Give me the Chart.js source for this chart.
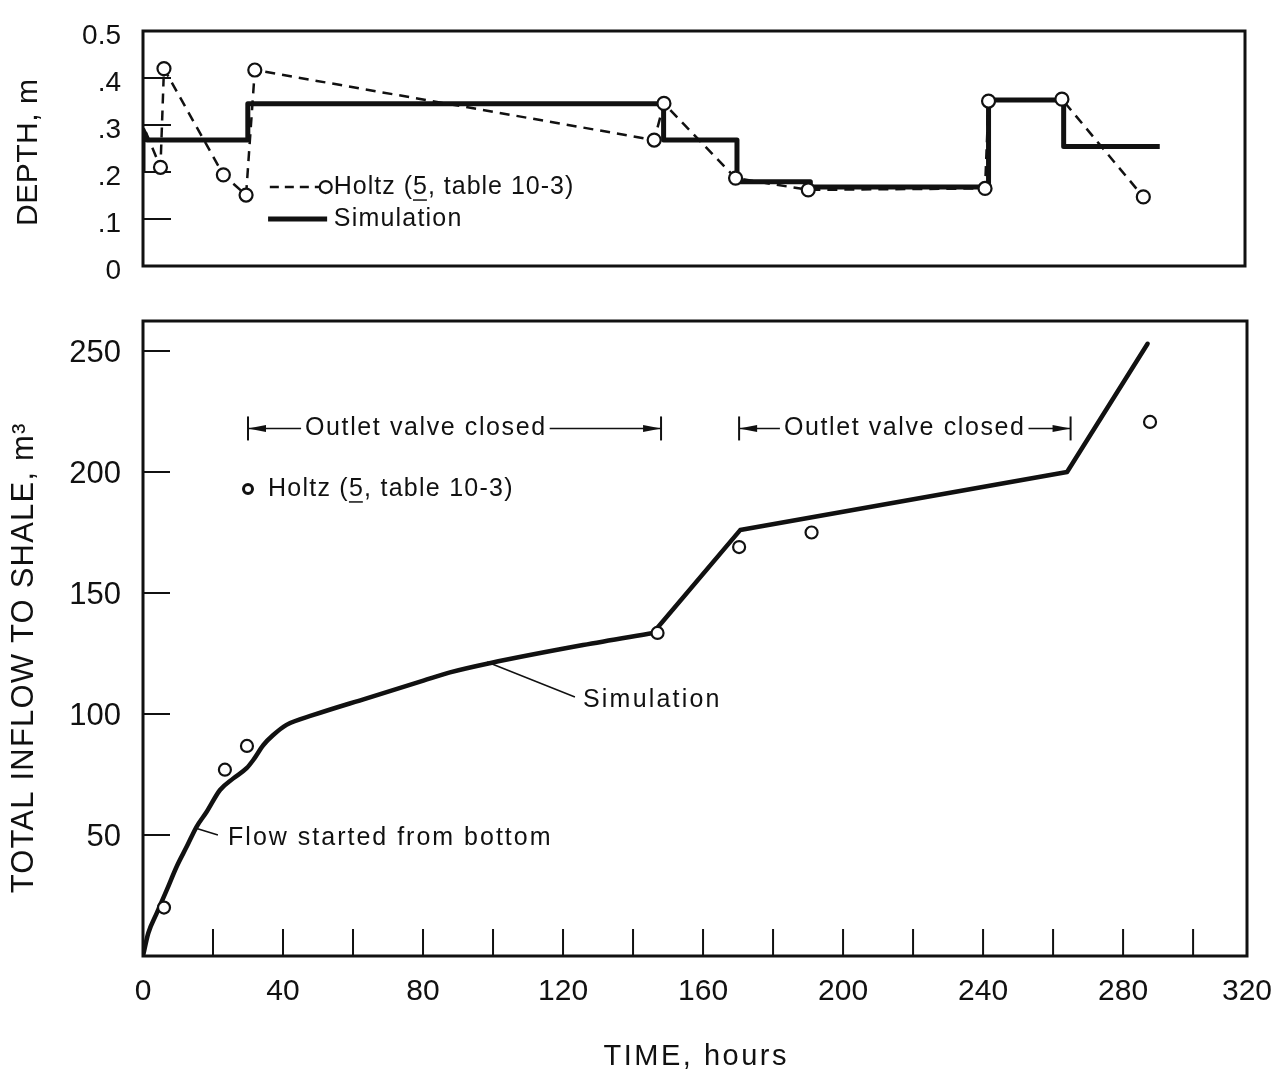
<!DOCTYPE html>
<html>
<head>
<meta charset="utf-8">
<title>Depth and total inflow to shale</title>
<script src="https://cdn.jsdelivr.net/npm/chart.js@4.4.1/dist/chart.umd.min.js"></script>
<style>
  html, body { margin: 0; padding: 0; background: #fff; overflow: hidden; }
  canvas { position: absolute; left: 0; display: block; }
  #depthChart { top: 0; }
  #inflowChart { top: 290px; }
</style>
</head>
<body>
<canvas id="depthChart" width="1272" height="290"></canvas>
<canvas id="inflowChart" width="1272" height="783"></canvas>
<script>
const FONT = "'Liberation Sans', Arial, Helvetica, sans-serif";
const INK = "#111";
const HOLTZ_LABEL = "Holtz (5, table 10-3)";

// time axis (hours). the printed frame stops a little short of 320,
// so the last tick sits on the frame and is labelled 320
const timeTicks = [0, 20, 40, 60, 80, 100, 120, 140, 160, 180, 200, 220, 240, 260, 280, 300, 315.4];
const timeTickLabels = ["0", "", "40", "", "80", "", "120", "", "160", "", "200", "", "240", "", "280", "", "320"];

const depthTicks = [0, 0.1, 0.2, 0.3, 0.4, 0.5];
const depthTickLabels = ["0", ".1", ".2", ".3", ".4", "0.5"];

const inflowTicks = [0, 50, 100, 150, 200, 250];
const inflowTickLabels = ["", "50", "100", "150", "200", "250"];

// top panel - depth, m
const simDepthHours = [0, 0, 1.2, 30, 30, 149, 149, 170, 170, 191, 191, 242, 242, 263.5, 263.5, 291];
const simDepth = [0.2, 0.29, 0.268, 0.268, 0.345, 0.345, 0.268, 0.268, 0.179, 0.179, 0.168, 0.168, 0.353, 0.353, 0.254, 0.254];
const holtzDepthHours = [0.8, 5, 6, 23, 29.5, 32, 146.3, 149.1, 169.6, 190.4, 241, 242, 263, 286.3];
const holtzDepth = [0.285, 0.21, 0.42, 0.194, 0.151, 0.417, 0.268, 0.346, 0.187, 0.162, 0.165, 0.351, 0.355, 0.147];

// bottom panel - total inflow to shale, m3
const simInflowHours = [0, 1.5, 3.9, 6.8, 9.6, 12.5, 15.3, 18.2, 22, 25.8, 29.6, 31.5, 34.4, 37.2, 41, 48.7, 63.9, 80.1, 87.7, 99, 125.7, 145.7, 170.6, 264, 287];
const simInflow = [0, 9.4, 17.6, 27.3, 36.9, 45.2, 53.4, 59.6, 68.6, 73.4, 77.6, 81, 87.2, 91.3, 95.5, 99.6, 106.5, 113.8, 117.2, 121, 128.5, 133.5, 176, 200, 253];
const holtzInflowHours = [6, 23.4, 29.7, 147, 170.3, 191, 287.7];
const holtzInflow = [20, 77, 86.8, 133.5, 169, 175, 220.7];

// periods with the outlet valve closed (hours)
const valveClosed = [[30, 148], [170.3, 265]];

const pts = (xs, ys) => xs.map((x, i) => ({ x: x, y: ys[i] }));
// the simulated curve is smooth until the valve opens at ~146 h, then piecewise straight
const kneeIdx = simInflowHours.indexOf(145.7);

Chart.defaults.font.family = FONT;
Chart.defaults.color = INK;

function drawText(ctx, s, x, y, size, spacing, align) {
    ctx.font = size + "px " + FONT;
    ctx.letterSpacing = spacing + "px";
    ctx.textAlign = align || "left";
    ctx.textBaseline = "middle";
    ctx.fillStyle = INK;
    ctx.fillText(s, x, y);
    return ctx.measureText(s).width;
}

function drawHoltzText(ctx, x, y, size, spacing) {
    drawText(ctx, HOLTZ_LABEL, x, y, size, spacing);
    const a = ctx.measureText("Holtz (").width;
    const b = ctx.measureText("5").width - spacing;
    ctx.lineWidth = 1.5;
    ctx.beginPath();
    ctx.moveTo(x + a, y + size * 0.52);
    ctx.lineTo(x + a + b, y + size * 0.52);
    ctx.stroke();
}

function openCircle(ctx, x, y, r, w) {
    ctx.beginPath();
    ctx.arc(x, y, r, 0, Math.PI * 2);
    ctx.fillStyle = "#fff";
    ctx.fill();
    ctx.lineWidth = w;
    ctx.strokeStyle = INK;
    ctx.stroke();
}

// head points at xTo, with the end bar
function arrowLine(ctx, xFrom, xTo, y) {
    const d = Math.sign(xTo - xFrom);
    ctx.fillStyle = INK;
    ctx.lineWidth = 1.6;
    ctx.beginPath();
    ctx.moveTo(xFrom, y);
    ctx.lineTo(xTo, y);
    ctx.stroke();
    ctx.beginPath();
    ctx.moveTo(xTo, y);
    ctx.lineTo(xTo - d * 18, y - 3.5);
    ctx.lineTo(xTo - d * 18, y + 3.5);
    ctx.closePath();
    ctx.fill();
    ctx.lineWidth = 2;
    ctx.beginPath();
    ctx.moveTo(xTo, y - 12);
    ctx.lineTo(xTo, y + 12);
    ctx.stroke();
}

// frame, inward tick marks and the (letter-spaced) axis titles
const paperAxes = {
    id: "paperAxes",
    beforeDatasetsDraw(chart, args, opts) {
        const { ctx, chartArea: a, scales } = chart;
        ctx.save();
        ctx.strokeStyle = INK;
        ctx.lineWidth = 2;
        ctx.beginPath();
        (opts.yTicks || []).forEach((v) => {
            const py = scales.y.getPixelForValue(v);
            ctx.moveTo(a.left, py);
            ctx.lineTo(a.left + opts.tickLen, py);
        });
        (opts.xTicks || []).forEach((v) => {
            const px = scales.x.getPixelForValue(v);
            ctx.moveTo(px, a.bottom);
            ctx.lineTo(px, a.bottom - opts.tickLen);
        });
        ctx.stroke();
        ctx.restore();
    },
    afterDraw(chart, args, opts) {
        const { ctx, chartArea: a } = chart;
        ctx.save();
        ctx.strokeStyle = INK;
        ctx.lineWidth = 3;
        ctx.strokeRect(a.left, a.top, a.right - a.left, a.bottom - a.top);
        const yt = opts.yTitle;
        if (yt) {
            ctx.save();
            ctx.translate(yt.x, (a.top + a.bottom) / 2 + yt.dy);
            ctx.rotate(-Math.PI / 2);
            drawText(ctx, yt.text, yt.spacing / 2, 0, yt.size, yt.spacing, "center");
            ctx.restore();
        }
        const xt = opts.xTitle;
        if (xt) {
            drawText(ctx, xt.text, (a.left + a.right) / 2 + xt.spacing / 2, xt.y, xt.size, xt.spacing, "center");
        }
        ctx.restore();
    },
};

const depthNotes = {
    id: "depthNotes",
    afterDraw(chart) {
        const { ctx, scales: { x, y } } = chart;
        ctx.save();
        ctx.strokeStyle = INK;
        ctx.fillStyle = INK;
        const y1 = y.getPixelForValue(0.168);
        const y2 = y.getPixelForValue(0.1);
        ctx.lineWidth = 2.5;
        ctx.setLineDash([9, 6]);
        ctx.beginPath();
        ctx.moveTo(x.getPixelForValue(36.3), y1);
        ctx.lineTo(x.getPixelForValue(50.5), y1);
        ctx.stroke();
        ctx.setLineDash([]);
        openCircle(ctx, x.getPixelForValue(52.3), y1, 6, 2.2);
        drawHoltzText(ctx, x.getPixelForValue(54.6), y1, 25, 1);
        ctx.lineWidth = 5;
        ctx.beginPath();
        ctx.moveTo(x.getPixelForValue(35.8), y2);
        ctx.lineTo(x.getPixelForValue(52.7), y2);
        ctx.stroke();
        drawText(ctx, "Simulation", x.getPixelForValue(54.6), y2, 25, 1.2);
        ctx.restore();
    },
};

const inflowNotes = {
    id: "inflowNotes",
    afterDraw(chart) {
        const { ctx, scales: { x, y } } = chart;
        ctx.save();
        ctx.strokeStyle = INK;
        ctx.fillStyle = INK;

        // outlet valve closed brackets
        const textStarts = [46.3, 183.1];
        valveClosed.forEach((p, i) => {
            const yy = y.getPixelForValue(218);
            const x0 = x.getPixelForValue(p[0]);
            const x1 = x.getPixelForValue(p[1]);
            const t0 = x.getPixelForValue(textStarts[i]);
            const w = drawText(ctx, "Outlet valve closed", t0, yy, 25, 1.6);
            arrowLine(ctx, t0 - 4, x0, yy);
            arrowLine(ctx, t0 + w + 3, x1, yy);
        });

        // key for the measured points
        openCircle(ctx, x.getPixelForValue(30), y.getPixelForValue(193), 4.5, 3);
        drawHoltzText(ctx, x.getPixelForValue(35.7), y.getPixelForValue(193), 25, 1.25);

        // leader labels
        ctx.strokeStyle = INK;
        ctx.lineWidth = 1.5;
        ctx.beginPath();
        ctx.moveTo(x.getPixelForValue(14.9), y.getPixelForValue(52.9));
        ctx.lineTo(x.getPixelForValue(21.4), y.getPixelForValue(50));
        ctx.moveTo(x.getPixelForValue(98.3), y.getPixelForValue(121.5));
        ctx.lineTo(x.getPixelForValue(123.4), y.getPixelForValue(107));
        ctx.stroke();
        drawText(ctx, "Flow started from bottom", x.getPixelForValue(24.3), y.getPixelForValue(48.8), 25, 2.0);
        drawText(ctx, "Simulation", x.getPixelForValue(125.7), y.getPixelForValue(105.8), 25, 2.2);
        ctx.restore();
    },
};

function timeAxis(show) {
    const axis = {
        type: "linear",
        display: show,
        min: 0,
        max: 315.4,
        afterBuildTicks: (s) => { s.ticks = timeTicks.map((v) => ({ value: v })); },
        grid: { display: false, drawTicks: false },
        border: { display: false },
        ticks: {
            autoSkip: false,
            maxRotation: 0,
            padding: 18,
            font: { size: 30 },
            callback: (v, i) => timeTickLabels[i],
        },
    };
    if (show) {
        axis.afterFit = (s) => {
            s.height = 117;
            s.paddingLeft = 0;
            s.paddingRight = 0;
        };
    }
    return axis;
}

function valueAxis(max, ticks, labels, fontSize, nudge) {
    return {
        min: 0,
        max: max,
        afterBuildTicks: (s) => { s.ticks = ticks.map((v) => ({ value: v })); },
        afterFit: (s) => {
            s.width = 143;
            s.paddingTop = 0;
            s.paddingBottom = 0;
        },
        grid: { display: false, drawTicks: false },
        border: { display: false },
        ticks: {
            autoSkip: false,
            padding: 22,
            labelOffset: nudge,
            font: { size: fontSize },
            callback: (v, i) => labels[i],
        },
    };
}

new Chart(document.getElementById("depthChart"), {
    type: "scatter",
    data: {
        datasets: [
            {
                label: HOLTZ_LABEL,
                data: pts(holtzDepthHours, holtzDepth),
                showLine: true,
                borderColor: INK,
                borderWidth: 2.5,
                borderDash: [10, 7],
                pointRadius: (c) => (c.dataIndex === 0 ? 0 : 6.5),
                pointBackgroundColor: "#fff",
                pointBorderColor: INK,
                pointBorderWidth: 2.2,
            },
            {
                label: "Simulation",
                data: pts(simDepthHours, simDepth),
                showLine: true,
                borderColor: INK,
                borderWidth: 5,
                borderJoinStyle: "round",
                pointRadius: 0,
            },
        ],
    },
    options: {
        responsive: false,
        animation: false,
        events: [],
        layout: { padding: { left: 0, top: 31, right: 27, bottom: 24 } },
        scales: {
            x: timeAxis(false),
            y: valueAxis(0.5, depthTicks, depthTickLabels, 28, 5),
        },
        plugins: {
            legend: { display: false },
            tooltip: { enabled: false },
            paperAxes: {
                yTicks: [0.1, 0.2, 0.3, 0.4],
                tickLen: 28,
                yTitle: { text: "DEPTH, m", x: 29, dy: 4, size: 30, spacing: 0.5 },
            },
        },
    },
    plugins: [paperAxes, depthNotes],
});

new Chart(document.getElementById("inflowChart"), {
    type: "scatter",
    data: {
        datasets: [
            {
                label: HOLTZ_LABEL,
                data: pts(holtzInflowHours, holtzInflow),
                pointRadius: 6,
                pointBackgroundColor: "#fff",
                pointBorderColor: INK,
                pointBorderWidth: 2.2,
            },
            {
                label: "Simulation",
                data: pts(simInflowHours.slice(0, kneeIdx + 1), simInflow.slice(0, kneeIdx + 1)),
                showLine: true,
                cubicInterpolationMode: "monotone",
                borderColor: INK,
                borderWidth: 4.5,
                borderCapStyle: "round",
                pointRadius: 0,
            },
            {
                label: "Simulation",
                data: pts(simInflowHours.slice(kneeIdx), simInflow.slice(kneeIdx)),
                showLine: true,
                borderColor: INK,
                borderWidth: 4.5,
                borderCapStyle: "round",
                borderJoinStyle: "round",
                pointRadius: 0,
            },
        ],
    },
    options: {
        responsive: false,
        animation: false,
        events: [],
        layout: { padding: { left: 0, top: 31, right: 25, bottom: 0 } },
        scales: {
            x: timeAxis(true),
            y: valueAxis(262.4, inflowTicks, inflowTickLabels, 31, 2),
        },
        plugins: {
            legend: { display: false },
            tooltip: { enabled: false },
            paperAxes: {
                yTicks: [50, 100, 150, 200, 250],
                xTicks: timeTicks.slice(1, -1),
                tickLen: 27,
                yTitle: { text: "TOTAL INFLOW TO SHALE, m³", x: 24, dy: 20, size: 31, spacing: 1.2 },
                xTitle: { text: "TIME, hours", y: 767, size: 29, spacing: 2.5 },
            },
        },
    },
    plugins: [paperAxes, inflowNotes],
});
</script>
</body>
</html>
